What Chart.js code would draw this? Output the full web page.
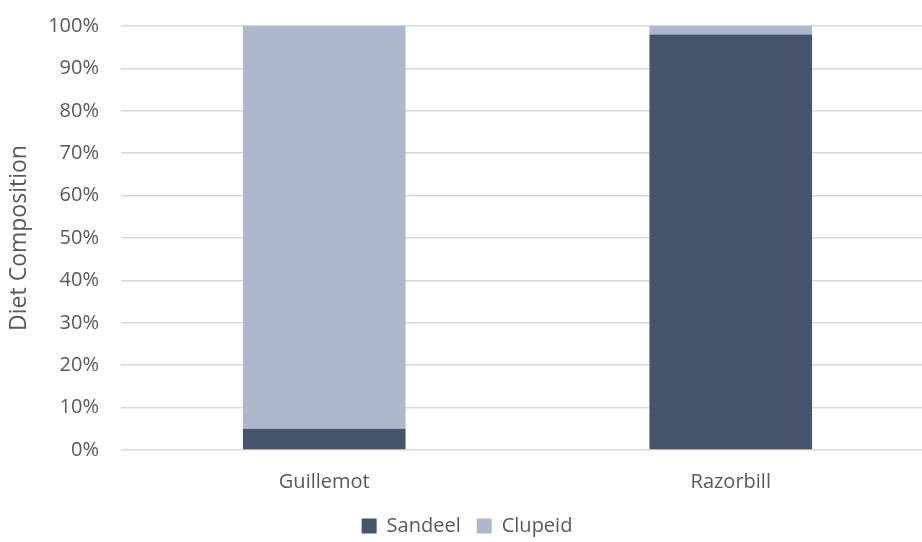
<!DOCTYPE html>
<html>
<head>
<meta charset="utf-8">
<script src="https://cdn.jsdelivr.net/npm/chart.js@4.4.1/dist/chart.umd.min.js"></script>
<style>
  html, body { margin: 0; padding: 0; background: #ffffff; overflow: hidden; }
  #wrap { width: 942px; height: 542px; }
</style>
</head>
<body>
<div id="wrap"><canvas id="chart" width="942" height="542"></canvas></div>
<script>
// Diet composition by species (percent of diet)
const categories = ['Guillemot', 'Razorbill'];
const seriesNames = ['Sandeel', 'Clupeid'];
const sandeel = [5, 98];
const clupeid = [95, 2];
const yTicks = [0, 10, 20, 30, 40, 50, 60, 70, 80, 90, 100];

const textColor = '#595959';
const fontFamily = '"Open Sans", "DejaVu Sans", sans-serif';

new Chart(document.getElementById('chart'), {
  type: 'bar',
  data: {
    labels: categories,
    datasets: [
      { label: seriesNames[0], data: sandeel, backgroundColor: '#44546A' },
      { label: seriesNames[1], data: clupeid, backgroundColor: '#ADB9CA' }
    ]
  },
  options: {
    responsive: false,
    animation: false,
    layout: { padding: { top: 26, right: 8, left: 0, bottom: -4 } },
    datasets: { bar: { barPercentage: 0.4, categoryPercentage: 1, borderWidth: 0 } },
    plugins: {
      tooltip: { enabled: false },
      legend: {
        position: 'bottom',
        labels: {
          color: textColor,
          font: { family: fontFamily, size: 20 },
          boxWidth: 15,
          boxHeight: 15,
          padding: 16
        }
      }
    },
    scales: {
      x: {
        stacked: true,
        grid: { display: false, drawTicks: false },
        border: { display: false },
        ticks: {
          color: textColor,
          font: { family: fontFamily, size: 20 },
          padding: 20
        },
        afterFit: (scale) => { scale.height = 50; }
      },
      y: {
        stacked: true,
        min: 0,
        max: 100,
        afterBuildTicks: (scale) => { scale.ticks = yTicks.map(v => ({ value: v })); },
        grid: { color: '#D9D9D9', lineWidth: 1.5, drawTicks: false },
        border: { display: false },
        ticks: {
          color: textColor,
          font: { family: fontFamily, size: 20 },
          padding: 22,
          callback: (v) => v + '%'
        },
        title: {
          display: true,
          text: 'Diet Composition',
          color: textColor,
          font: { family: fontFamily, size: 23 },
          padding: { top: 6, bottom: 0 }
        },
        afterFit: (scale) => {
          scale.width = 121;
          // keep the plot area edge at the outer ticks, not below the label gap
          scale.paddingTop = 0;
          scale.paddingBottom = 0;
        }
      }
    }
  }
});
</script>
</body>
</html>
